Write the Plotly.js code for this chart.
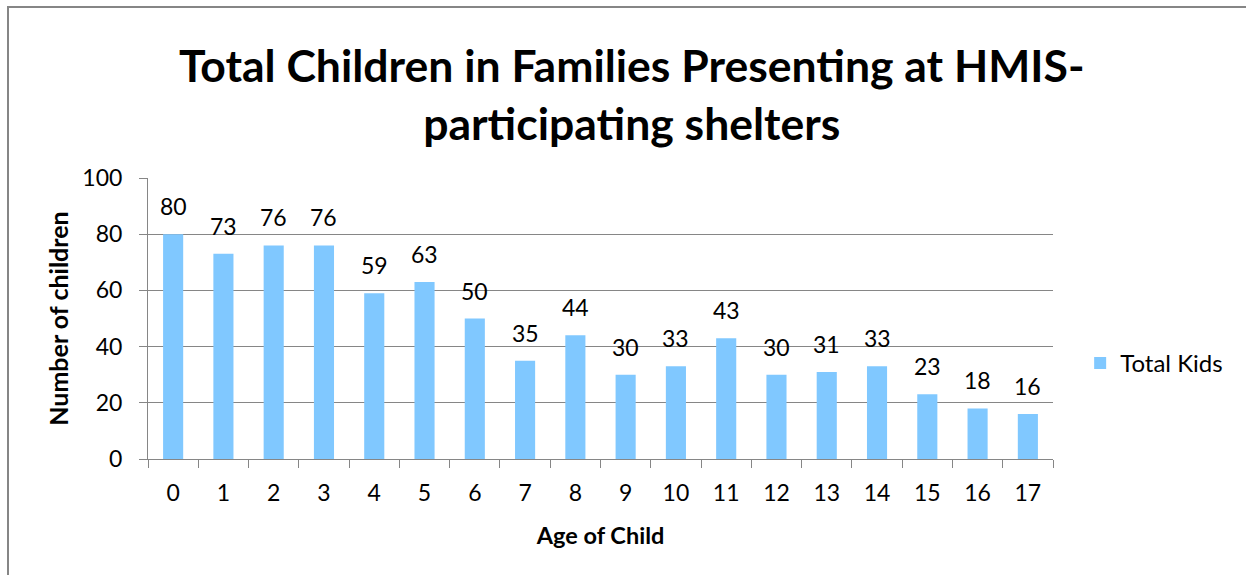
<!DOCTYPE html>
<html>
<head>
<meta charset="utf-8">
<script src="https://cdn.plot.ly/plotly-3.0.1.min.js"></script>
<style>body{margin:0;padding:0;background:#fff}#chart{width:1246px;height:575px}</style>
</head>
<body>
<div id="chart"></div>
<script>
const ages = ['0','1','2','3','4','5','6','7','8','9','10','11','12','13','14','15','16','17'];
const totalKids = [80,73,76,76,59,63,50,35,44,30,33,43,30,31,33,23,18,16];
const seriesName = 'Total Kids';
const yTicks = [0,20,40,60,80,100];

const FONT = 'Lato, Carlito, Calibri, sans-serif';
const GRAY = '#868686';
const FS = 23;

const trace = {
  type: 'bar',
  x: ages,
  y: totalKids,
  name: seriesName,
  marker: {color: '#80C8FF'},
  showlegend: true
};

const annotations = ages.map((a, i) => ({
  x: a, y: totalKids[i], xref: 'x', yref: 'y',
  text: String(totalKids[i]), showarrow: false,
  yanchor: 'bottom', yshift: 12,
  font: {family: FONT, size: FS, color: '#000'}
}));

const layout = {
  width: 1246, height: 575,
  margin: {l: 148, r: 193, t: 178, b: 116},
  paper_bgcolor: '#fff', plot_bgcolor: '#fff',
  font: {family: FONT, size: FS, color: '#000'},
  title: {
    text: '<b>Total Children in Families Presenting at HMIS-<br>participating shelters</b>',
    font: {family: FONT, size: 44.5, color: '#000'},
    x: 0.507, xanchor: 'center', xref: 'container',
    y: 0.857, yanchor: 'top', yref: 'container'
  },
  bargap: 0.6,
  xaxis: {
    type: 'category',
    showline: true, linecolor: GRAY, linewidth: 1,
    ticks: 'outside', ticklen: 8, tickcolor: GRAY, tickson: 'boundaries',
    ticklabelstandoff: 13,
    tickfont: {family: FONT, size: FS},
    title: {text: '<b>Age of Child</b>', font: {family: FONT, size: 23.5}, standoff: 22},
    showgrid: false, zeroline: false
  },
  yaxis: {
    range: [0, 100], tickvals: yTicks,
    showline: true, linecolor: GRAY, linewidth: 1,
    ticks: 'outside', ticklen: 8, tickcolor: GRAY,
    ticklabelstandoff: 12,
    showgrid: true, gridcolor: GRAY, gridwidth: 1,
    zeroline: false,
    tickfont: {family: FONT, size: FS},
    title: {text: '<b>Number of children</b>', font: {family: FONT, size: 25}, standoff: 6}
  },
  legend: {
    x: 1.03, xanchor: 'left', y: 0.34, yanchor: 'middle',
    font: {family: FONT, size: 24}, itemwidth: 30
  },
  annotations: annotations,
  shapes: [{
    type: 'path', xref: 'paper', yref: 'paper',
    path: 'M -0.1547 -0.45 L -0.1547 1.6085 L 1.25 1.6085',
    line: {color: GRAY, width: 2}
  }]
};

Plotly.newPlot('chart', [trace], layout, {displayModeBar: false, staticPlot: true});
</script>
</body>
</html>
